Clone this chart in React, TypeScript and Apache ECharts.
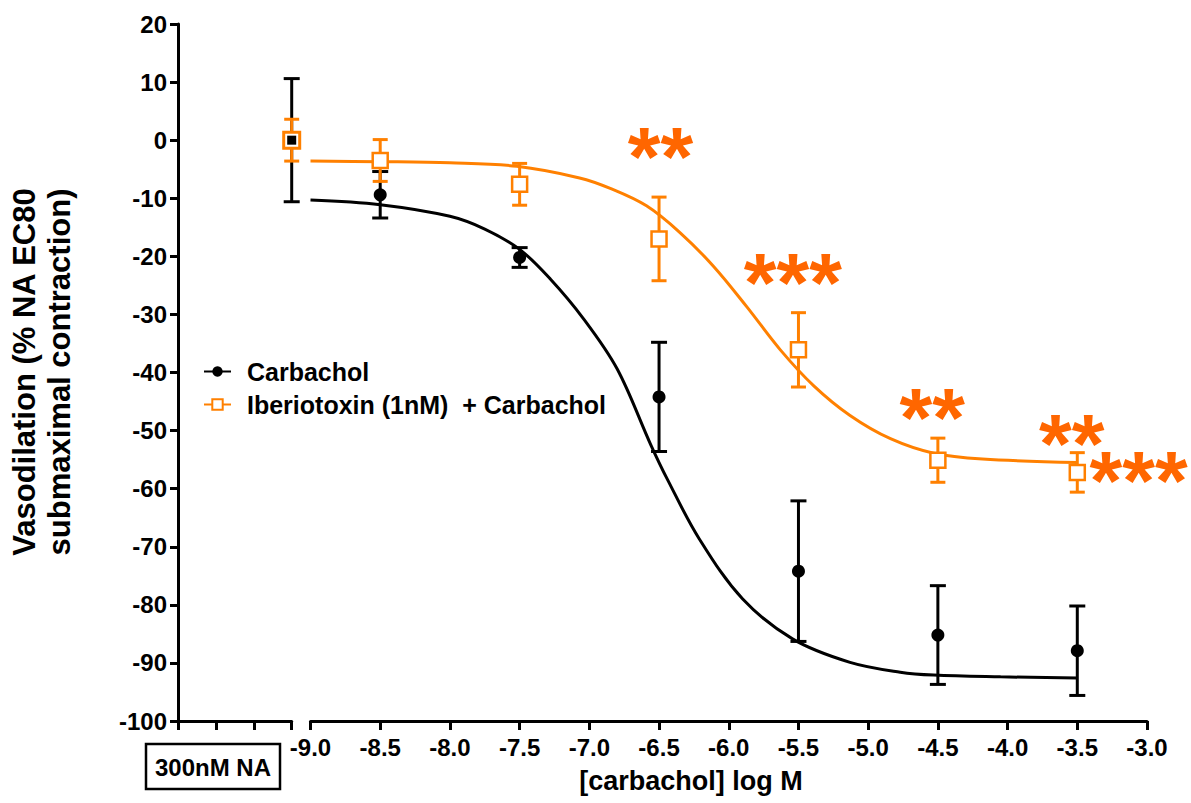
import React, { useEffect, useRef } from "react";
import * as echarts from "echarts";

// ---------- data ----------
const CONC_LOG = [-8.5, -7.5, -6.5, -5.5, -4.5, -3.5];
const CARB_MEAN = [-9.4, -20.2, -44.2, -74.2, -85.2, -87.9];
const CARB_SEM = [4.0, 1.7, 9.4, 12.1, 8.5, 7.7];
const IBTX_MEAN = [-3.5, -7.6, -17.0, -36.1, -55.1, -57.2];
const IBTX_SEM = [3.6, 3.6, 7.2, 6.4, 3.8, 3.4];

// control (300nM NA) segment
const CTRL_X = 3;
const CTRL_CARB = { mean: 0, sem: 10.6 };
const CTRL_IBTX = { mean: 0, sem: 3.6 };

// fitted curves: [logM, %]
const CARB_CURVE: [number, number][] = [
  [-9.0, -10.3], [-8.5, -11.1], [-8.0, -13.1], [-7.75, -15.3], [-7.5, -18.8],
  [-7.28, -23.9], [-7.04, -30.8], [-6.8, -39.4], [-6.56, -52.4], [-6.44, -58.4],
  [-6.21, -68.7], [-5.9, -79.0], [-5.54, -85.9], [-5.13, -89.9], [-4.77, -91.6],
  [-4.53, -92.1], [-4.05, -92.4], [-3.5, -92.6],
];
const IBTX_CURVE: [number, number][] = [
  [-9.0, -3.6], [-8.5, -3.7], [-8.0, -3.9], [-7.52, -4.5], [-7.07, -6.5],
  [-6.85, -8.3], [-6.59, -11.3], [-6.35, -15.9], [-6.11, -21.7], [-5.87, -28.7],
  [-5.63, -36.1], [-5.39, -42.3], [-5.13, -47.4], [-4.84, -51.4], [-4.53, -53.9],
  [-4.18, -54.9], [-3.5, -55.5],
];

// significance marks: [logM, %, text]
const STARS: [number, number, string][] = [
  [-6.49, -0.7, "**"],
  [-5.54, -22.4, "***"],
  [-4.54, -45.6, "**"],
  [-3.54, -50.1, "**"],
  [-3.06, -56.5, "***"],
];

const SERIES_CARB = "Carbachol";
const SERIES_IBTX = "Iberiotoxin (1nM)  + Carbachol";
const Y_TITLE = "Vasodilation (% NA EC80\nsubmaximal contraction)";
const X_TITLE = "[carbachol] log M";
const CTRL_LABEL = "300nM NA";

const BLACK = "#000000";
const ORANGE = "#ff8000";
const STAR = "#ff6600";
const FONT = '"Liberation Sans", Arial, Helvetica, sans-serif';

function errData(xs: number[], m: number[], s: number[]) {
  return xs.map((x, i) => [x, m[i] - s[i], m[i] + s[i]]);
}

function errRender(color: string, cap: number) {
  return (params: any, api: any) => {
    const x = api.value(0);
    const lo = api.coord([x, api.value(1)]);
    const hi = api.coord([x, api.value(2)]);
    const st = { stroke: color, lineWidth: 3 };
    return {
      type: "group",
      children: [
        { type: "line", shape: { x1: hi[0], y1: hi[1], x2: lo[0], y2: lo[1] }, style: st },
        { type: "line", shape: { x1: hi[0] - cap, y1: hi[1], x2: hi[0] + cap, y2: hi[1] }, style: st },
        { type: "line", shape: { x1: lo[0] - cap, y1: lo[1], x2: lo[0] + cap, y2: lo[1] }, style: st },
      ],
    };
  };
}

export default function App() {
  const ref = useRef<HTMLDivElement>(null);

  useEffect(() => {
    if (!ref.current) return;
    const chart = echarts.init(ref.current, undefined, { renderer: "svg" });

    const axisLine = { show: true, onZero: false, lineStyle: { color: BLACK, width: 3 } };
    const axisTick = { show: true, length: 9, lineStyle: { color: BLACK, width: 3 } };

    const option: any = {
      animation: false,
      backgroundColor: "#ffffff",
      grid: [
        { left: 178, right: 1191 - 291.7, top: 24, bottom: 82 },
        { left: 310.5, right: 44, top: 24, bottom: 82 },
      ],
      xAxis: [
        {
          gridIndex: 0, type: "value", min: 0, max: 3, interval: 1,
          axisLine, axisTick, axisLabel: { show: false }, splitLine: { show: false },
        },
        {
          gridIndex: 1, type: "value", min: -9, max: -3, interval: 0.5,
          axisLine, axisTick, splitLine: { show: false },
          axisLabel: {
            margin: 14, color: BLACK, fontFamily: FONT, fontWeight: "bold", fontSize: 24,
            formatter: (v: number) => v.toFixed(1),
          },
        },
      ],
      yAxis: [
        {
          gridIndex: 0, type: "value", min: -100, max: 20, interval: 10,
          axisLine, axisTick: { ...axisTick, length: 8 }, splitLine: { show: false },
          axisLabel: { margin: 11, color: BLACK, fontFamily: FONT, fontWeight: "bold", fontSize: 24 },
        },
        {
          gridIndex: 1, type: "value", min: -100, max: 20, interval: 10, show: false,
          splitLine: { show: false },
        },
      ],
      legend: {
        data: [SERIES_CARB, SERIES_IBTX],
        orient: "vertical",
        left: 198,
        top: 354,
        itemWidth: 27,
        itemHeight: 13,
        itemGap: 8,
        selectedMode: false,
        textStyle: { color: BLACK, fontFamily: FONT, fontWeight: "bold", fontSize: 25, padding: [0, 0, 0, 11] },
      },
      series: [
        {
          name: SERIES_CARB, type: "line", xAxisIndex: 1, yAxisIndex: 1,
          data: CARB_CURVE, smooth: 0.35, symbol: "circle", showSymbol: false,
          lineStyle: { color: BLACK, width: 3 }, itemStyle: { color: BLACK }, z: 2,
        },
        {
          name: SERIES_IBTX, type: "line", xAxisIndex: 1, yAxisIndex: 1,
          data: IBTX_CURVE, smooth: 0.35, symbol: "emptyRect", showSymbol: false,
          lineStyle: { color: ORANGE, width: 3 }, itemStyle: { color: ORANGE }, z: 3,
        },
        {
          name: "carb-err", type: "custom", xAxisIndex: 1, yAxisIndex: 1, clip: false, z: 4,
          data: errData(CONC_LOG, CARB_MEAN, CARB_SEM), renderItem: errRender(BLACK, 8),
        },
        {
          name: "carb-pts", type: "scatter", xAxisIndex: 1, yAxisIndex: 1, z: 5,
          data: CONC_LOG.map((x, i) => [x, CARB_MEAN[i]]), symbol: "circle", symbolSize: 13,
          itemStyle: { color: BLACK, opacity: 1 },
        },
        {
          name: "ibtx-err", type: "custom", xAxisIndex: 1, yAxisIndex: 1, clip: false, z: 6,
          data: errData(CONC_LOG, IBTX_MEAN, IBTX_SEM), renderItem: errRender(ORANGE, 7.5),
        },
        {
          name: "ibtx-pts", type: "scatter", xAxisIndex: 1, yAxisIndex: 1, z: 7,
          data: CONC_LOG.map((x, i) => [x, IBTX_MEAN[i]]), symbol: "rect", symbolSize: 15,
          itemStyle: { color: "#ffffff", borderColor: ORANGE, borderWidth: 2.5, opacity: 1 },
        },
        // control segment
        {
          name: "ctrl-carb-err", type: "custom", xAxisIndex: 0, yAxisIndex: 0, clip: false, z: 4,
          data: [[CTRL_X, CTRL_CARB.mean - CTRL_CARB.sem, CTRL_CARB.mean + CTRL_CARB.sem]],
          renderItem: errRender(BLACK, 8),
        },
        {
          name: "ctrl-ibtx-err", type: "custom", xAxisIndex: 0, yAxisIndex: 0, clip: false, z: 6,
          data: [[CTRL_X, CTRL_IBTX.mean - CTRL_IBTX.sem, CTRL_IBTX.mean + CTRL_IBTX.sem]],
          renderItem: errRender(ORANGE, 7.5),
        },
        {
          name: "ctrl-ibtx-pt", type: "scatter", xAxisIndex: 0, yAxisIndex: 0, z: 7, clip: false,
          data: [[CTRL_X, CTRL_IBTX.mean]], symbol: "rect", symbolSize: 16,
          itemStyle: { color: "#ffffff", borderColor: ORANGE, borderWidth: 3, opacity: 1 },
        },
        {
          name: "ctrl-carb-pt", type: "scatter", xAxisIndex: 0, yAxisIndex: 0, z: 8, clip: false,
          data: [[CTRL_X, CTRL_CARB.mean]], symbol: "rect", symbolSize: 9,
          itemStyle: { color: BLACK, opacity: 1 },
        },
        {
          name: "stars", type: "custom", xAxisIndex: 1, yAxisIndex: 1, clip: false, z: 9,
          data: STARS,
          renderItem: (params: any, api: any) => {
            const p = api.coord([api.value(0), api.value(1)]);
            const txt = STARS[params.dataIndex][2];
            const fs = 84;
            return {
              type: "text",
              x: p[0],
              y: p[1] + fs * 0.15,
              style: {
                text: txt, fill: STAR, font: `bold ${fs}px ${FONT}`, lineHeight: 30,
                align: "center", verticalAlign: "middle",
                textAlign: "center", textVerticalAlign: "middle",
              },
            };
          },
        },
      ],
      graphic: [
        {
          type: "text", x: 42, y: 372, rotation: Math.PI / 2,
          style: {
            text: Y_TITLE, fill: BLACK, font: `bold 31px ${FONT}`, lineHeight: 35,
            textAlign: "center", textVerticalAlign: "middle", align: "center", verticalAlign: "middle",
          },
        },
        {
          type: "text", x: 691, y: 781,
          style: {
            text: X_TITLE, fill: BLACK, font: `bold 27px ${FONT}`,
            textAlign: "center", textVerticalAlign: "middle", align: "center", verticalAlign: "middle",
          },
        },
        {
          type: "rect", shape: { x: 146, y: 744, width: 134, height: 45 },
          style: { fill: "#ffffff", stroke: BLACK, lineWidth: 2.5 },
        },
        {
          type: "text", x: 213, y: 767,
          style: {
            text: CTRL_LABEL, fill: BLACK, font: `bold 24px ${FONT}`,
            textAlign: "center", textVerticalAlign: "middle", align: "center", verticalAlign: "middle",
          },
        },
      ],
    };

    chart.setOption(option);
    return () => chart.dispose();
  }, []);

  return (
    <div
      ref={ref}
      style={{ position: "fixed", left: 0, top: 0, width: 1191, height: 803, background: "#fff" }}
    />
  );
}
